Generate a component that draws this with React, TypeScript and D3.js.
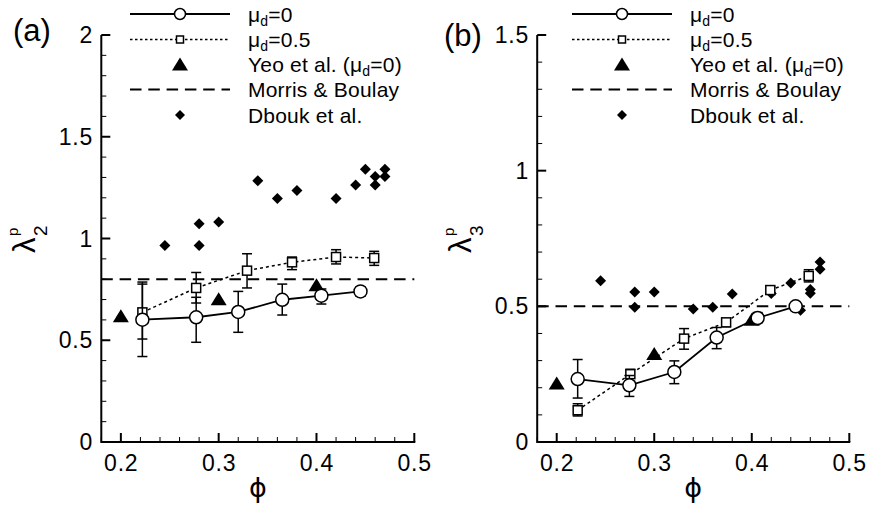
import React from 'react';
import * as d3 from 'd3';

// ---------- data ----------
const phiMajorTicks = [0.2, 0.3, 0.4, 0.5];
const yTicksA = [0, 0.5, 1, 1.5, 2];
const yTicksB = [0, 0.5, 1, 1.5];

// panel (a): lambda_2^p
const phiA_mu0 = [0.222, 0.277, 0.32, 0.365, 0.405, 0.445];
const lamA_mu0 = [0.601, 0.613, 0.639, 0.699, 0.719, 0.74];
const lamA_mu0_lo = [0.42, 0.49, 0.539, 0.624, 0.678, 0.716];
const lamA_mu0_hi = [0.786, 0.711, 0.74, 0.776, 0.752, 0.762];

const phiA_mu05 = [0.222, 0.277, 0.329, 0.375, 0.42, 0.459];
const lamA_mu05 = [0.637, 0.757, 0.842, 0.883, 0.909, 0.904];
const lamA_mu05_lo = [0.506, 0.683, 0.757, 0.847, 0.875, 0.868];
const lamA_mu05_hi = [0.776, 0.833, 0.925, 0.909, 0.945, 0.937];

const phiA_yeo = [0.2, 0.3, 0.4];
const lamA_yeo = [0.62, 0.704, 0.773];

const lamA_morris = 0.8;

const phiA_dbouk = [0.245, 0.28, 0.28, 0.3, 0.34, 0.36, 0.38, 0.42, 0.44, 0.45, 0.46, 0.46, 0.47, 0.47];
const lamA_dbouk = [0.966, 1.073, 0.966, 1.081, 1.284, 1.197, 1.236, 1.197, 1.263, 1.34, 1.305, 1.263, 1.34, 1.305];

// panel (b): lambda_3^p
const phiB_mu0 = [0.2215, 0.2745, 0.3206, 0.364, 0.406, 0.445];
const lamB_mu0 = [0.232, 0.209, 0.258, 0.385, 0.457, 0.5];
const lamB_mu0_lo = [0.162, 0.168, 0.215, 0.344, 0.44, 0.487];
const lamB_mu0_hi = [0.304, 0.245, 0.299, 0.422, 0.477, 0.512];

const phiB_mu05 = [0.2215, 0.2755, 0.3306, 0.3737, 0.419, 0.4584];
const lamB_mu05 = [0.117, 0.25, 0.381, 0.441, 0.56, 0.612];
const lamB_mu05_lo = [0.096, 0.224, 0.342, 0.425, 0.548, 0.59];
const lamB_mu05_hi = [0.141, 0.268, 0.418, 0.455, 0.572, 0.635];

const phiB_yeo = [0.2, 0.3, 0.4];
const lamB_yeo = [0.217, 0.326, 0.452];

const lamB_morris = 0.5;

const phiB_dbouk = [0.245, 0.28, 0.28, 0.3, 0.34, 0.36, 0.38, 0.42, 0.44, 0.45, 0.46, 0.46, 0.47, 0.47];
const lamB_dbouk = [0.594, 0.553, 0.497, 0.553, 0.49, 0.497, 0.545, 0.547, 0.586, 0.486, 0.562, 0.548, 0.663, 0.637];

const legendLabels = ['μd=0', 'μd=0.5', 'Yeo et al. (μd=0)', 'Morris & Boulay', 'Dbouk et al.'];

// ---------- layout ----------
const FONT = "'Liberation Sans', Arial, Helvetica, sans-serif";
const W = 869;
const H = 507;

const panels = [
  {
    tag: '(a)', tagX: 13, tagY: 41, sub: '2',
    xRange: [101.3, 414.3], yRange: [442, 35], yDomain: [0, 2], yTicks: yTicksA,
    mu0: [phiA_mu0, lamA_mu0, lamA_mu0_lo, lamA_mu0_hi],
    mu05: [phiA_mu05, lamA_mu05, lamA_mu05_lo, lamA_mu05_hi],
    yeo: [phiA_yeo, lamA_yeo], morris: lamA_morris, dbouk: [phiA_dbouk, lamA_dbouk],
    legX: 130, legTextX: 248, ylabX: 35,
  },
  {
    tag: '(b)', tagX: 444, tagY: 46, sub: '3',
    xRange: [537.2, 849.3], yRange: [442, 35], yDomain: [0, 1.5], yTicks: yTicksB,
    mu0: [phiB_mu0, lamB_mu0, lamB_mu0_lo, lamB_mu0_hi],
    mu05: [phiB_mu05, lamB_mu05, lamB_mu05_lo, lamB_mu05_hi],
    yeo: [phiB_yeo, lamB_yeo], morris: lamB_morris, dbouk: [phiB_dbouk, lamB_dbouk],
    legX: 572, legTextX: 690, ylabX: 471,
  },
];

const legendRows = [14, 39.5, 64, 89.5, 115];

function tri(cx: number, cy: number, w: number, h: number) {
  return `M${cx - w / 2},${cy + h / 2}L${cx + w / 2},${cy + h / 2}L${cx},${cy - h / 2}Z`;
}
function dia(cx: number, cy: number, r: number) {
  return `M${cx},${cy - r}L${cx + r},${cy}L${cx},${cy + r}L${cx - r},${cy}Z`;
}

function MuText({ x, y, text }: { x: number; y: number; text: string }) {
  const parts = text.split('μd');
  const out: any[] = [];
  parts.forEach((p, i) => {
    if (i > 0) {
      out.push(<tspan key={'m' + i}>μ</tspan>);
      out.push(
        <tspan key={'d' + i} fontSize={14} dy={4}>d</tspan>
      );
      out.push(<tspan key={'r' + i} dy={-4}>{p}</tspan>);
    } else if (p) {
      out.push(<tspan key={'p' + i}>{p}</tspan>);
    }
  });
  return (
    <text x={x} y={y} fontSize={21} fontFamily={FONT} fill="#000" letterSpacing={0.2}>
      {out}
    </text>
  );
}

function Panel({ p }: { p: any }) {
  const x = d3.scaleLinear().domain([0.18, 0.5]).range(p.xRange);
  const y = d3.scaleLinear().domain(p.yDomain).range(p.yRange);
  const y0 = y(0);
  const x0 = x(0.18);
  const xMinor = d3.range(0.18, 0.5001, 0.02).filter((v) => !phiMajorTicks.some((m) => Math.abs(m - v) < 1e-6));
  const yMinor = d3.range(0, p.yDomain[1] + 1e-6, 0.1).filter((v) => !p.yTicks.some((m: number) => Math.abs(m - v) < 1e-6));
  const line = d3.line<number[]>().x((d) => x(d[0])).y((d) => y(d[1]));

  const series = (s: number[][]) => s[0].map((v, i) => [v, s[1][i], s[2][i], s[3][i]]);
  const s0 = series(p.mu0);
  const s05 = series(p.mu05);

  const errBars = (s: number[][], key: string) =>
    s.map((d, i) => (
      <g key={key + i} stroke="#000" strokeWidth={1.5}>
        <line x1={x(d[0])} x2={x(d[0])} y1={y(d[2])} y2={y(d[3])} />
        <line x1={x(d[0]) - 5} x2={x(d[0]) + 5} y1={y(d[2])} y2={y(d[2])} />
        <line x1={x(d[0]) - 5} x2={x(d[0]) + 5} y1={y(d[3])} y2={y(d[3])} />
      </g>
    ));

  const lx1 = p.legX;
  const lx2 = p.legX + 100;
  const lmid = (lx1 + lx2) / 2;
  const LS = 0.8;

  return (
    <g>
      <text x={p.tagX} y={p.tagY} fontSize={31} fontFamily={FONT}>{p.tag}</text>

      {/* Morris & Boulay */}
      <line x1={x0} x2={x(0.5)} y1={y(p.morris)} y2={y(p.morris)} stroke="#000" strokeWidth={2} strokeDasharray="11.5,6.8" />

      {/* Dbouk */}
      {p.dbouk[0].map((v: number, i: number) => (
        <path key={'db' + i} d={dia(x(v), y(p.dbouk[1][i]), 5.5)} fill="#000" />
      ))}

      {/* Yeo */}
      {p.yeo[0].map((v: number, i: number) => (
        <path key={'yeo' + i} d={tri(x(v), y(p.yeo[1][i]), 16, 13)} fill="#000" />
      ))}

      {/* mu=0.5 */}
      <path d={line(s05) || ''} fill="none" stroke="#000" strokeWidth={1.5} strokeDasharray="3,3" />
      {errBars(s05, 'e05')}
      {s05.map((d, i) => (
        <rect key={'sq' + i} x={x(d[0]) - 4.5} y={y(d[1]) - 4.5} width={9} height={9} fill="#fff" stroke="#000" strokeWidth={1.5} />
      ))}

      {/* mu=0 */}
      <path d={line(s0) || ''} fill="none" stroke="#000" strokeWidth={1.8} />
      {errBars(s0, 'e0')}
      {s0.map((d, i) => (
        <circle key={'c' + i} cx={x(d[0])} cy={y(d[1])} r={6.5} fill="#fff" stroke="#000" strokeWidth={1.5} />
      ))}

      {/* axes */}
      <line x1={x0} x2={x(0.5) + 1} y1={y0} y2={y0} stroke="#000" strokeWidth={2} />
      <line x1={x0} x2={x0} y1={y0 + 1} y2={y(p.yDomain[1])} stroke="#000" strokeWidth={2} />
      {phiMajorTicks.map((t) => (
        <g key={'xt' + t}>
          <line x1={x(t)} x2={x(t)} y1={y0} y2={y0 - 9} stroke="#000" strokeWidth={2} />
          <text x={x(t) + LS / 2} y={470.5} textAnchor="middle" fontSize={23} letterSpacing={LS} fontFamily={FONT}>{String(t)}</text>
        </g>
      ))}
      {xMinor.map((t) => (
        <line key={'xm' + t} x1={x(t)} x2={x(t)} y1={y0} y2={y0 - 5} stroke="#000" strokeWidth={1} />
      ))}
      {p.yTicks.map((t: number) => (
        <g key={'yt' + t}>
          <line x1={x0} x2={x0 + 9} y1={y(t)} y2={y(t)} stroke="#000" strokeWidth={2} />
          <text x={x0 - 9 + LS} y={y(t) + 8} textAnchor="end" fontSize={23} letterSpacing={LS} fontFamily={FONT}>{String(t)}</text>
        </g>
      ))}
      {yMinor.map((t: number) => (
        <line key={'ym' + t} x1={x0} x2={x0 + 5} y1={y(t)} y2={y(t)} stroke="#000" strokeWidth={1} />
      ))}

      {/* axis titles */}
      <text x={(x0 + x(0.5)) / 2} y={497} textAnchor="middle" fontSize={27} fontFamily="'DejaVu Sans', sans-serif">ϕ</text>
      <g transform={`translate(${p.ylabX},240) rotate(-90)`} fontFamily={FONT}>
        <text x={-13} y={0} fontSize={31}>λ</text>
        <text x={4} y={-17} fontSize={15}>p</text>
        <text x={4} y={12} fontSize={19}>{p.sub}</text>
      </g>

      {/* legend */}
      <line x1={lx1} x2={lx2} y1={legendRows[0]} y2={legendRows[0]} stroke="#000" strokeWidth={2} />
      <circle cx={lmid} cy={legendRows[0]} r={5.5} fill="#fff" stroke="#000" strokeWidth={1.5} />
      <line x1={lx1} x2={lx2} y1={legendRows[1]} y2={legendRows[1]} stroke="#000" strokeWidth={1.5} strokeDasharray="2.5,2.5" />
      <rect x={lmid - 3.5} y={legendRows[1] - 3.5} width={7} height={7} fill="#fff" stroke="#000" strokeWidth={1.5} />
      <path d={tri(lmid, legendRows[2], 16, 13)} fill="#000" />
      <line x1={lx1} x2={lx2} y1={legendRows[3]} y2={legendRows[3]} stroke="#000" strokeWidth={2} strokeDasharray="11.5,6.8" />
      <path d={dia(lmid, legendRows[4], 5)} fill="#000" />
      {legendLabels.map((l, i) => (
        <MuText key={'lg' + i} x={p.legTextX} y={legendRows[i] + 7.5} text={l} />
      ))}
    </g>
  );
}

export default function App() {
  return (
    <svg width={W} height={H} style={{ position: 'absolute', left: 0, top: 0, background: '#fff' }}>
      <rect width={W} height={H} fill="#fff" />
      {panels.map((p, i) => (
        <Panel key={i} p={p} />
      ))}
    </svg>
  );
}
